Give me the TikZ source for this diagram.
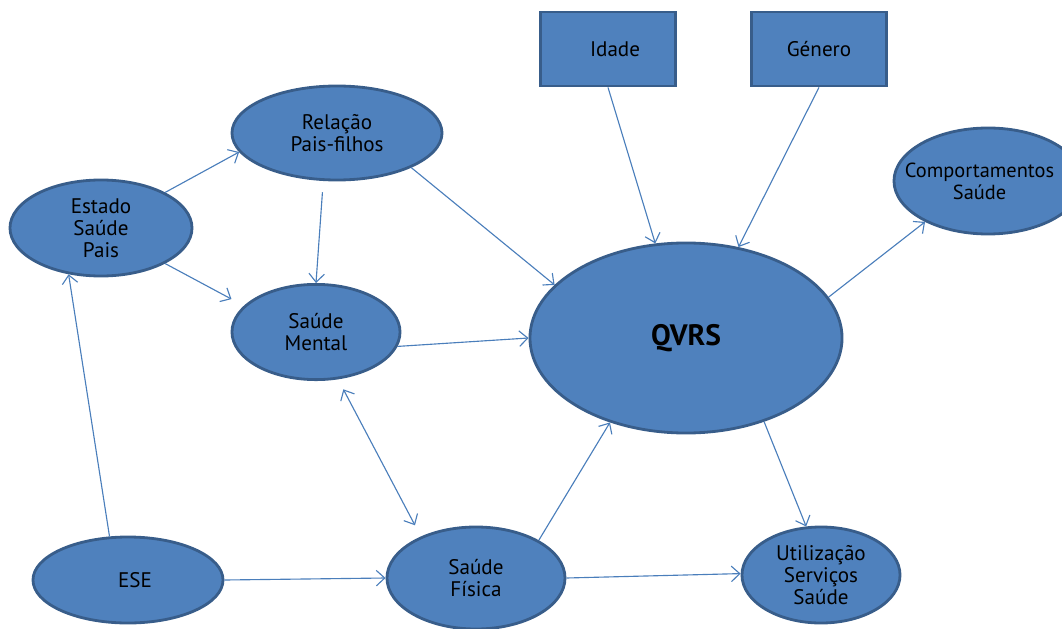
\documentclass[tikz,border=0pt]{standalone}
\usepackage{fontspec}
\setmainfont{PT Sans}
\usetikzlibrary{shapes.geometric,arrows.meta}

\definecolor{fillblue}{HTML}{4F81BD}
\definecolor{bordblue}{HTML}{385D8A}
\definecolor{linkblue}{HTML}{4A7EBB}

\tikzset{
  blob/.style={ellipse, draw=bordblue, fill=fillblue, line width=2pt, inner sep=0pt,
    align=center, font=\fontsize{15}{15.8}\selectfont},
  factor/.style={rectangle, draw=bordblue, fill=fillblue, line width=2pt, inner sep=0pt,
    minimum width=3.38cm, minimum height=1.85cm, font=\fontsize{15}{15.8}\selectfont},
  link/.style={draw=linkblue, line width=0.8pt, -{Straight Barb[length=6pt,width=11pt]}},
  twolink/.style={draw=linkblue, line width=0.8pt, {Straight Barb[length=6pt,width=11pt]}-{Straight Barb[length=6pt,width=11pt]}}
}

\begin{document}
\begin{tikzpicture}[x=0.025cm, y=-0.025cm]
			\useasboundingbox (0,0) rectangle (1062,629);

			% nodes
			\node[blob, minimum width=4.55cm, minimum height=2.4cm] (estado) at (101,228) {Estado\\Saúde\\Pais};
			\node[blob, minimum width=5.25cm, minimum height=2.35cm] (relacao) at (337,133) {Relação\\Pais-filhos};
			\node[blob, minimum width=4.2cm, minimum height=2.38cm] (mental) at (316,332) {Saúde\\Mental};
			\node[blob, minimum width=7.8cm, minimum height=4.75cm, font=\fontsize{21}{24}\selectfont\bfseries] (qvrs) at (686,338) {QVRS};
			\node[factor] (idade) at (608,49) {\hspace{10pt}Idade};
			\node[factor] (genero) at (819,49) {Género};
			\node[blob, inner xsep=-1cm, minimum width=4.7cm, minimum height=2.65cm, font=\fontsize{14.5}{15.8}\selectfont] (comport) at (988,181) {Comportamentos\hspace*{12pt}\\Saúde\hspace*{12pt}};
			\node[blob, minimum width=4.75cm, minimum height=2.15cm] (ese) at (128,580) {\hspace{10pt}ESE};
			\node[blob, minimum width=4.45cm, minimum height=2.55cm] (fisica) at (476,578) {Saúde\\Física};
			\node[blob, minimum width=3.95cm, minimum height=2.4cm] (util) at (821,575) {Utilização\\Serviços\\Saúde};

			% connectors
			\draw[link] (estado.29) -- (relacao.191);
			\draw[link, shorten >=10pt] (estado.-29) -- (mental.160);
			\draw[link] (ese.113) -- (estado.235);
			\draw[link, shorten <=8pt] (relacao.254) -- (mental.north);
			\draw[link] (relacao.-25) -- (qvrs.158);
			\draw[link] (mental.-10) -- (qvrs.180);
			\draw[twolink, shorten <=8pt, shorten >=9pt] (mental.-65) -- (fisica.143);
			\draw[link] (idade.south) -- (qvrs.108);
			\draw[link] (genero.south) -- (qvrs.60);
			\draw[link] (qvrs.16) -- (comport.213);
			\draw[link] (qvrs.-47) -- (util.107);
			\draw[link] (fisica.31) -- (qvrs.228);
			\draw[link] (fisica.east) -- (util.179);
			\draw[link] (ese.east) -- (fisica.180);

		\end{tikzpicture}
\end{document}
